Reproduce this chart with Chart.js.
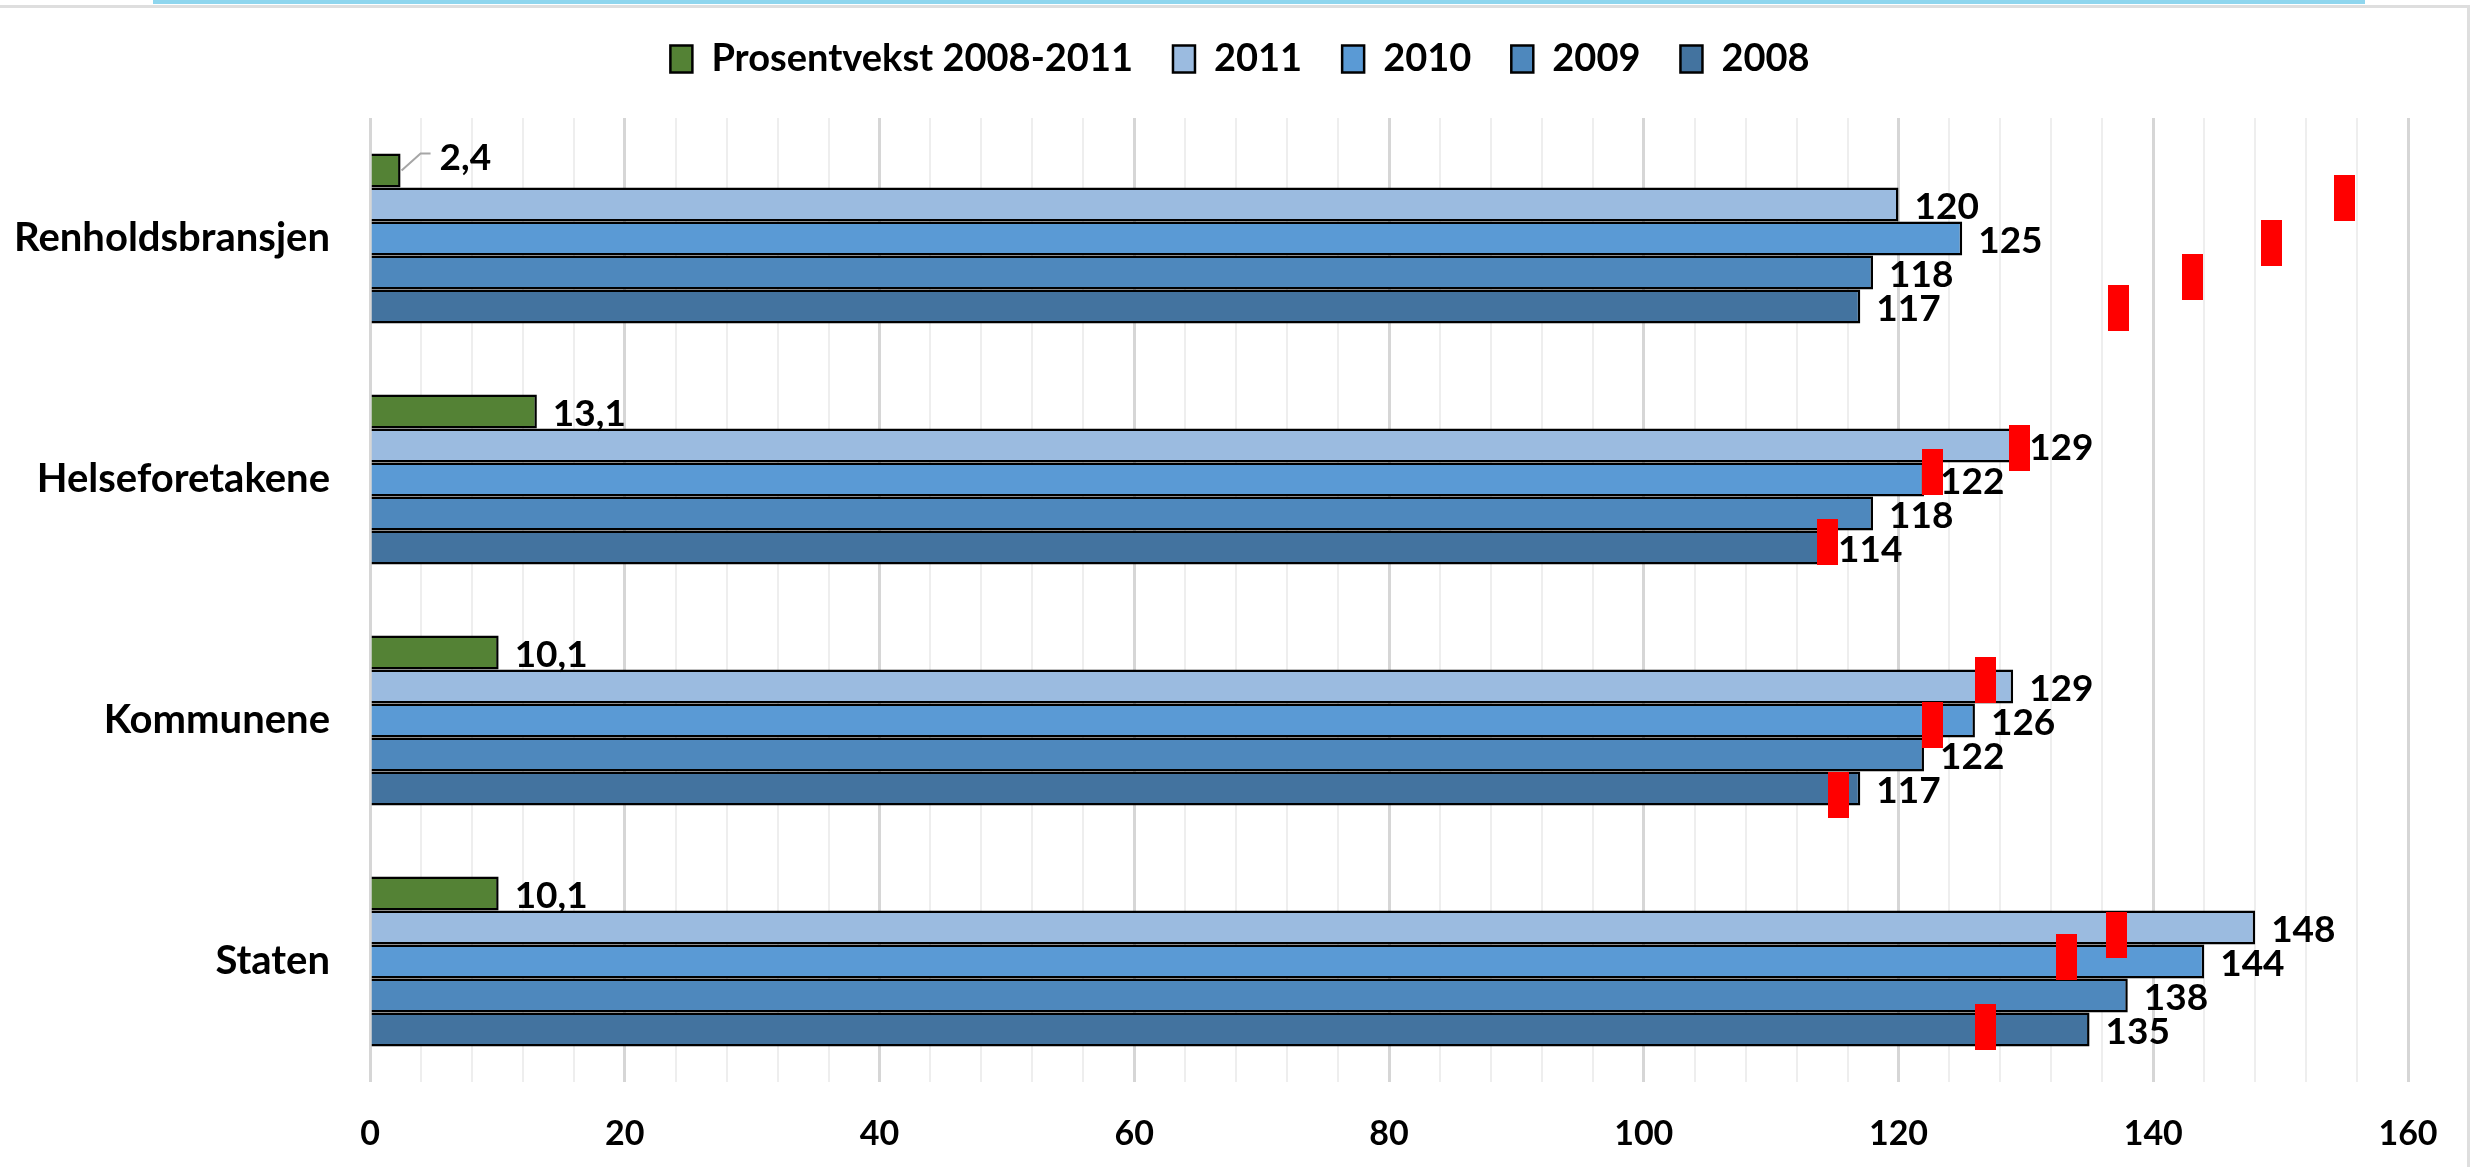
<!DOCTYPE html>
<html>
<head>
<meta charset="utf-8">
<script src="https://cdn.jsdelivr.net/npm/chart.js@4.4.1/dist/chart.umd.min.js"></script>
<style>
  body { margin: 0; background: #fff; }
  #wrap { position: relative; width: 2481px; height: 1167px; overflow: hidden; }
  #chart { position: absolute; left: 0; top: 0; }
  .frame { position: absolute; left: 0; top: 5px; width: 2467px; height: 1170px; border-top: 3px solid #dedede; border-right: 3px solid #dedede; }
  .topbar { position: absolute; left: 153px; top: 0; width: 2212px; height: 4px; background: #8fd6ee; }
</style>
</head>
<body>
<div id="wrap">
  <div class="frame"></div>
  <div class="topbar"></div>
  <canvas id="chart" width="2481" height="1167"></canvas>
</div>
<script>
const categories = ['Renholdsbransjen', 'Helseforetakene', 'Kommunene', 'Staten'];
const seriesNames = ['Prosentvekst 2008-2011', '2011', '2010', '2009', '2008'];
const growth = [2.4, 13.1, 10.1, 10.1];
const v2011 = [120, 129, 129, 148];
const v2010 = [125, 122, 126, 144];
const v2009 = [118, 118, 122, 138];
const v2008 = [117, 114, 117, 135];
const xTickLabels = [0, 20, 40, 60, 80, 100, 120, 140, 160];

// red markers: x value and position on the category axis (0 = first category centre)
const markerX = [137.3, 143.1, 149.3, 155.0, 129.5, 122.7, 114.4, 126.8, 122.7, 115.3, 137.1, 133.2, 126.8];
const markerY = [0.29, 0.16, 0.02, -0.17, 0.87, 0.97, 1.26, 1.83, 2.02, 2.31, 2.89, 2.98, 3.27];

const colors = ['#548235', '#9bbbe0', '#5a9ad5', '#4e88bd', '#43739f'];
const FONT = 'Lato';
const NUM_FS = 34;
const LABEL_FS = 37;

const marker = document.createElement('canvas');
marker.width = 21;
marker.height = 46;
const mctx = marker.getContext('2d');
mctx.fillStyle = '#ff0000';
mctx.fillRect(0, 0, 21, 46);

const barData = [growth, v2011, v2010, v2009, v2008];
const datasets = barData.map((d, i) => ({
    label: seriesNames[i],
    data: d.map((v, j) => ({ x: v, y: j })),
    backgroundColor: colors[i],
    borderColor: '#000',
    borderWidth: 2.5,
    barPercentage: 1,
    categoryPercentage: 0.705
}));
datasets.push({
    type: 'scatter',
    indexAxis: 'x',
    label: 'markers',
    data: markerX.map((x, i) => ({ x: x, y: markerY[i] })),
    pointStyle: marker,
    pointRadius: 10,
    order: -1
});

const legendFix = {
    id: 'legendFix',
    beforeInit(chart) {
        if (!chart.legend) return;
        const fit = chart.legend.fit;
        chart.legend.fit = function () {
            fit.call(this);
            this.height = 118;
        };
    },
    afterLayout(chart) {
        // centre legend on the full canvas, not on the padded area
        chart.legend.left += 36;
        chart.legend.right += 36;
    }
};

const barLabels = {
    id: 'barLabels',
    afterDatasetDraw(chart, args) {
        if (args.index > 4) return;
        const values = barData[args.index];
        const ctx = chart.ctx;
        ctx.save();
        ctx.font = `bold ${LABEL_FS}px ${FONT}`;
        ctx.fillStyle = '#000';
        ctx.textBaseline = 'middle';
        args.meta.data.forEach((bar, i) => {
            const v = values[i];
            const txt = args.index === 0 ? v.toFixed(1).replace('.', ',') : String(Math.round(v));
            let x = bar.x + 16, y = bar.y + 3;
            if (args.index === 0 && bar.x - bar.base < 40) {
                // short bar gets a leader line
                ctx.strokeStyle = '#a6a6a6';
                ctx.lineWidth = 2;
                ctx.beginPath();
                ctx.moveTo(bar.x + 1, bar.y);
                ctx.lineTo(bar.x + 20, bar.y - 17);
                ctx.lineTo(bar.x + 30, bar.y - 17);
                ctx.stroke();
                x = bar.x + 39;
                y = bar.y - 12;
            }
            ctx.fillText(txt, x, y);
        });
        ctx.restore();
    }
};

new Chart(document.getElementById('chart'), {
    type: 'bar',
    data: { datasets: datasets },
    plugins: [legendFix, barLabels],
    options: {
        indexAxis: 'y',
        responsive: false,
        animation: false,
        layout: { padding: { left: 0, right: 73, top: 0, bottom: 0 } },
        plugins: {
            tooltip: { enabled: false },
            legend: {
                position: 'top',
                labels: {
                    font: { family: FONT, size: 38, weight: 'bold' },
                    color: '#000',
                    boxWidth: 22,
                    boxHeight: 27,
                    padding: 40,
                    filter: item => item.datasetIndex < 5
                }
            }
        },
        scales: {
            x: {
                type: 'linear',
                min: 0,
                max: 160,
                afterFit(scale) { scale.height = 85; },
                border: { display: false },
                grid: {
                    drawTicks: false,
                    color: c => c.tick && c.tick.value % 20 === 0 ? '#d6d6d6' : '#eeeeee',
                    lineWidth: c => c.tick && c.tick.value % 20 === 0 ? 3 : 2
                },
                ticks: {
                    stepSize: 4,
                    autoSkip: false,
                    maxRotation: 0,
                    padding: 32,
                    color: '#000',
                    font: { family: FONT, size: NUM_FS, weight: 'bold' },
                    callback: v => xTickLabels.includes(v) ? String(v) : ''
                }
            },
            y: {
                type: 'linear',
                min: -0.5,
                max: 3.5,
                offset: false,
                reverse: true,
                afterBuildTicks(scale) { scale.ticks = categories.map((c, i) => ({ value: i })); },
                afterFit(scale) { scale.width = 370; },
                border: { display: false },
                grid: { display: false, drawTicks: false },
                ticks: {
                    autoSkip: false,
                    padding: 40,
                    color: '#000',
                    font: { family: FONT, size: 40, weight: 'bold' },
                    callback: v => categories[Math.round(v)]
                }
            }
        }
    }
});
</script>
</body>
</html>
